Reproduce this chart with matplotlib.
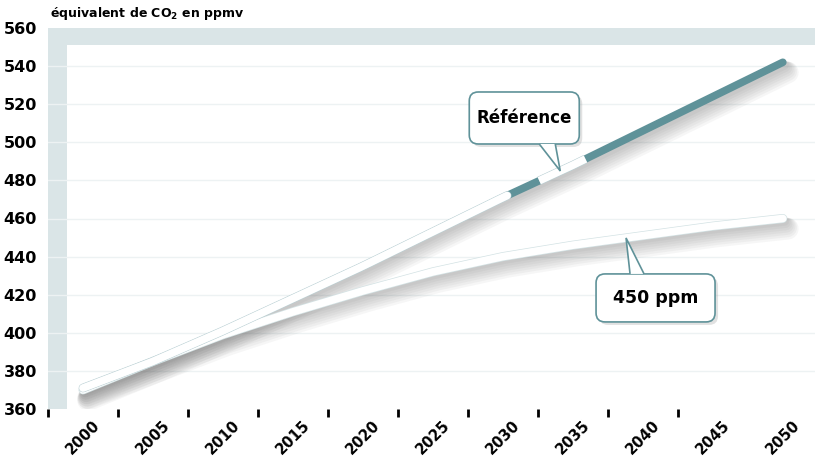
import numpy as np
import matplotlib
matplotlib.use("Agg")
import matplotlib.pyplot as plt
import matplotlib.transforms as mtransforms
import matplotlib.patheffects as pe
from matplotlib.patches import FancyBboxPatch, Polygon, Rectangle

# data
years = np.array([2000, 2005, 2010, 2015, 2020, 2025, 2030, 2035, 2040, 2045, 2050])
reference = np.array([371, 385, 401, 418, 435, 453, 471, 488, 506, 524, 542])
ppm450 = np.array([370, 385, 399, 411, 422, 432, 440, 446, 451, 456, 460])
ytick_vals = np.arange(360, 561, 20)

teal = "#5f9299"
band = "#dae5e7"
grid_c = "#edf2f3"

fig = plt.figure(figsize=(8.15, 4.57), dpi=100)
ax = fig.add_axes([48/815, 1 - 409/457, 1 - 48/815, (409 - 28)/457])
ax.set_xlim(1997.5, 2052.3)
ax.set_ylim(360, 560)
ax.set_facecolor(band)
for s in ax.spines.values():
    s.set_visible(False)

# white plotting area inside the band
ax.add_patch(Rectangle((1998.85, 360), 60, 191, facecolor="white", edgecolor="none", zorder=0.5))
for v in ytick_vals[1:-1]:
    ax.axhline(v, color=grid_c, lw=1, zorder=0.6)

# ticks
ax.set_yticks(ytick_vals)
ax.set_yticklabels([str(v) for v in ytick_vals], fontsize=11.5, fontweight="bold")
ax.tick_params(axis="y", length=0, pad=8)
ax.set_xticks(years)
ax.set_xticklabels([str(y) for y in years], rotation=45, ha="center", va="top",
                   fontsize=10.5, fontweight="bold")
ax.tick_params(axis="x", which="major", length=0, pad=6)
ax.set_xticks(years[:-1] - 2.5, minor=True)
ax.tick_params(axis="x", which="minor", length=6, width=2, color="black", direction="out")


# soft drop shadows
def shadow(x, y):
    for k in range(7):
        tr = mtransforms.offset_copy(ax.transData, fig=fig, x=2 + k * 0.5, y=-(3 + k * 1.2), units="dots")
        ax.plot(x, y, color="#555555", lw=6 + k * 1.6, alpha=0.05, solid_capstyle="round",
                transform=tr, zorder=1)


shadow(years, ppm450)
shadow(years, reference)

outline = [pe.Stroke(linewidth=6.5, foreground="#d3e2e4"), pe.Normal()]
ax.plot(years, ppm450, color="white", lw=5.5, solid_capstyle="round", zorder=3, path_effects=outline)

ax.plot(years, reference, color=teal, lw=5.5, solid_capstyle="round", zorder=4)
# white overlay on the first part of the reference curve
for (a, b), cap in [((2000, 2030.3), "round"), ((2032.6, 2035.9), "butt")]:
    xs = np.linspace(a, b, 50)
    ax.plot(xs, np.interp(xs, years, reference), color="white", lw=5.5,
            solid_capstyle=cap, zorder=5,
            path_effects=[pe.Stroke(linewidth=6.3, foreground="#bdd2d6"), pe.Normal()])

fig.text(50/815, 1 - 14/457, r"équivalent de CO$_\mathbf{2}$ en ppmv", fontsize=9,
         fontweight="bold", va="center", ha="left")


def callout(tip_year, series, text, box, base, fs):
    # box / base given in pixels relative to the tip of the pointer
    fig.canvas.draw()
    tx, ty = ax.transData.transform((tip_year, np.interp(tip_year, years, series)))
    x0, y0, w, h = box
    sh = FancyBboxPatch((tx + x0 + 3, ty + y0 - 3), w, h, boxstyle="round,pad=0,rounding_size=9",
                        transform=None, facecolor="#888888", alpha=0.25, edgecolor="none", zorder=7)
    fig.patches.append(sh)
    bx = FancyBboxPatch((tx + x0, ty + y0), w, h, boxstyle="round,pad=0,rounding_size=9",
                        transform=None, facecolor="white", edgecolor=teal, lw=1.2, zorder=8)
    fig.patches.append(bx)
    by = ty + (y0 + h if y0 + h <= 0 else y0)
    pts = [(tx + base[0], by), (tx, ty), (tx + base[1], by)]
    fig.patches.append(Polygon(pts, closed=False, transform=None, facecolor="white",
                               edgecolor=teal, lw=1.2, zorder=9))
    fig.text((tx + x0 + w / 2) / fig.bbox.width, (ty + y0 + h / 2) / fig.bbox.height, text,
             fontsize=fs, fontweight="bold", ha="center", va="center", zorder=10)


callout(2034.1, reference, "Référence", (-91, 27, 110, 52), (-21, -5), 12)
callout(2038.8, ppm450, "450 ppm", (-30, -84, 119, 48), (4, 18), 12.5)

fig.savefig("out.png", dpi=100)
